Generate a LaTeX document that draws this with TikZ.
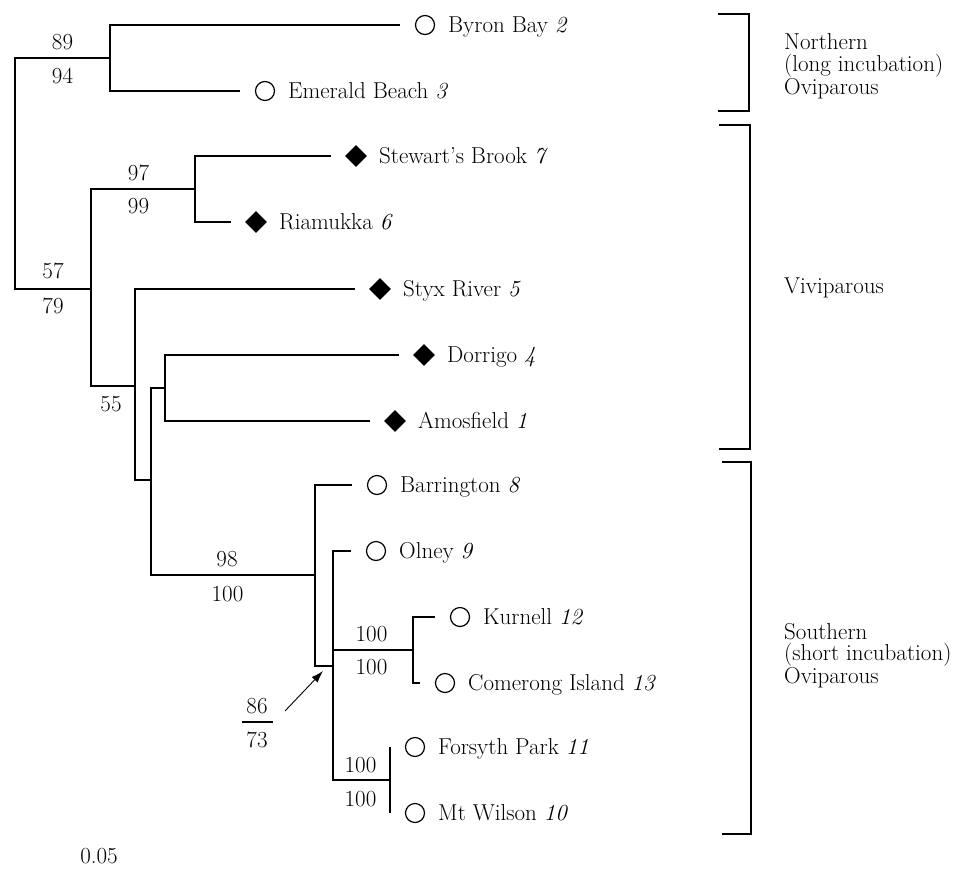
\documentclass[tikz,border=0pt]{standalone}
\usepackage{fontspec}
\usetikzlibrary{shapes.geometric,arrows.meta}
\newcommand{\figfont}{\fontsize{23}{21.5}\selectfont\addfontfeature{FakeBold=1.0}}
\begin{document}
\begin{tikzpicture}[x=1pt,y=-1pt,
  every node/.style={font=\figfont, inner sep=0pt},
  br/.style={line width=1.3pt},
  oval/.style={circle, draw, line width=1.2pt, minimum size=19pt},
  dia/.style={diamond, fill=black, minimum size=22pt},
  brk/.style={line width=1.1pt},
  tip/.style={anchor=base west},
  sup/.style={anchor=center}
]
\useasboundingbox (0,0) rectangle (966,868);

% tip symbols
\node[oval] (byron) at (425,25) {};
\node[oval] (emerald) at (265,91) {};
\node[dia] (stewart) at (356,156) {};
\node[dia] (riamukka) at (256,222) {};
\node[dia] (styx) at (380,289) {};
\node[dia] (dorrigo) at (424,355) {};
\node[dia] (amosfield) at (395,421) {};
\node[oval] (barrington) at (377,485) {};
\node[oval] (olney) at (376,551) {};
\node[oval] (kurnell) at (460,617) {};
\node[oval] (comerong) at (445,683) {};
\node[oval] (forsyth) at (415,747) {};
\node[oval] (mtwilson) at (415,813) {};

% tip labels
\node[tip] (byronL) at ([xshift=23pt,yshift=-7.5pt]byron.center) {Byron Bay \textit{2}};
\node[tip] (emeraldL) at ([xshift=23pt,yshift=-7.5pt]emerald.center) {Emerald Beach \textit{3}};
\node[tip] (stewartL) at ([xshift=23pt,yshift=-7.5pt]stewart.center) {Stewart's Brook \textit{7}};
\node[tip] (riamukkaL) at ([xshift=23pt,yshift=-7.5pt]riamukka.center) {Riamukka \textit{6}};
\node[tip] (styxL) at ([xshift=23pt,yshift=-7.5pt]styx.center) {Styx River \textit{5}};
\node[tip] (dorrigoL) at ([xshift=23pt,yshift=-7.5pt]dorrigo.center) {Dorrigo \textit{4}};
\node[tip] (amosfieldL) at ([xshift=23pt,yshift=-7.5pt]amosfield.center) {Amosfield \textit{1}};
\node[tip] (barringtonL) at ([xshift=23pt,yshift=-7.5pt]barrington.center) {Barrington \textit{8}};
\node[tip] (olneyL) at ([xshift=23pt,yshift=-7.5pt]olney.center) {Olney \textit{9}};
\node[tip] (kurnellL) at ([xshift=23pt,yshift=-7.5pt]kurnell.center) {Kurnell \textit{12}};
\node[tip] (comerongL) at ([xshift=23pt,yshift=-7.5pt]comerong.center) {Comerong Island \textit{13}};
\node[tip] (forsythL) at ([xshift=23pt,yshift=-7.5pt]forsyth.center) {Forsyth Park \textit{11}};
\node[tip] (mtwilsonL) at ([xshift=23pt,yshift=-7.5pt]mtwilson.center) {Mt Wilson \textit{10}};

% internal nodes
\coordinate (root) at (15,174);
\coordinate (A) at (110,58);
\coordinate (B) at (91,289);
\coordinate (C) at (195,189);
\coordinate (D) at (135,386);
\coordinate (E) at (151,480);
\coordinate (F) at (165,388);
\coordinate (G) at (315,575);
\coordinate (H) at (333,666);
\coordinate (I) at (413,650);
\coordinate (J) at (390,780);

% branches
\draw[br] (root) |- (A);
\draw[br] (root) |- (B);
\draw[br] (A) |- ([xshift=-25pt]byron.center);
\draw[br] (A) |- ([xshift=-25pt]emerald.center);
\draw[br] (B) |- (C);
\draw[br] (B) |- (D);
\draw[br] (C) |- ([xshift=-25pt]stewart.center);
\draw[br] (C) |- ([xshift=-25pt]riamukka.center);
\draw[br] (D) |- ([xshift=-25pt]styx.center);
\draw[br] (D) |- (E);
\draw[br] (E) |- (F);
\draw[br] (E) |- (G);
\draw[br] (F) |- ([xshift=-25pt]dorrigo.center);
\draw[br] (F) |- ([xshift=-25pt]amosfield.center);
\draw[br] (G) |- ([xshift=-25pt]barrington.center);
\draw[br] (G) |- (H);
\draw[br] (H) |- ([xshift=-25pt]olney.center);
\draw[br] (H) |- (I);
\draw[br] (H) |- (J);
\draw[br] (I) |- ([xshift=-25pt]kurnell.center);
\draw[br] (I) |- ([xshift=-25pt]comerong.center);
\draw[br] (J) |- ([xshift=-25pt]forsyth.center);
\draw[br] (J) |- ([xshift=-25pt]mtwilson.center);

% support values
\node[sup] (sA1) at (62.5,42) {89};
\node[sup] (sA2) at (62.5,75.5) {94};
\node[sup] (sC1) at (138.5,173) {97};
\node[sup] (sC2) at (138.5,206.5) {99};
\node[sup] (sB1) at (53,270.5) {57};
\node[sup] (sB2) at (53,305.5) {79};
\node[sup] (sD) at (111,404) {55};
\node[sup] (sG1) at (227,559.5) {98};
\node[sup] (sG2) at (227.5,594) {100};
\node[sup] (sI1) at (371.5,634) {100};
\node[sup] (sI2) at (371.5,667) {100};
\node[sup] (sJ1) at (360.5,765) {100};
\node[sup] (sJ2) at (360.5,799) {100};

% 86/73 with arrow
\coordinate (frac) at (257.5,722);
\node[sup] (sH1) at (257,706) {86};
\node[sup] (sH2) at (257,740) {73};
\draw[line width=1.1pt] ([xshift=-15.5pt]frac) -- ([xshift=15.5pt]frac);
\coordinate (astart) at (285,711);
\coordinate (atip) at (323,671);
\draw[line width=0.9pt,-{Latex[length=12pt,width=8pt]}] (astart) -- (atip);

% brackets
\draw[brk] (718,14) -- (749,14) -- (749,111) -- (718,111);
\draw[brk] (719,125) -- (750,125) -- (750,449) -- (719,449);
\draw[brk] (722,462) -- (751,462) -- (751,834) -- (722,834);

\node[anchor=north west, align=left] (north) at (784,33.8) {Northern\\(long incubation)\\Oviparous};
\node[anchor=base west] (vivi) at (784,293) {Viviparous};
\node[anchor=north west, align=left] (south) at (784,623) {Southern\\(short incubation)\\Oviparous};

% scale
\node[sup] (scale) at (99,856) {0.05};
\end{tikzpicture}
\end{document}
